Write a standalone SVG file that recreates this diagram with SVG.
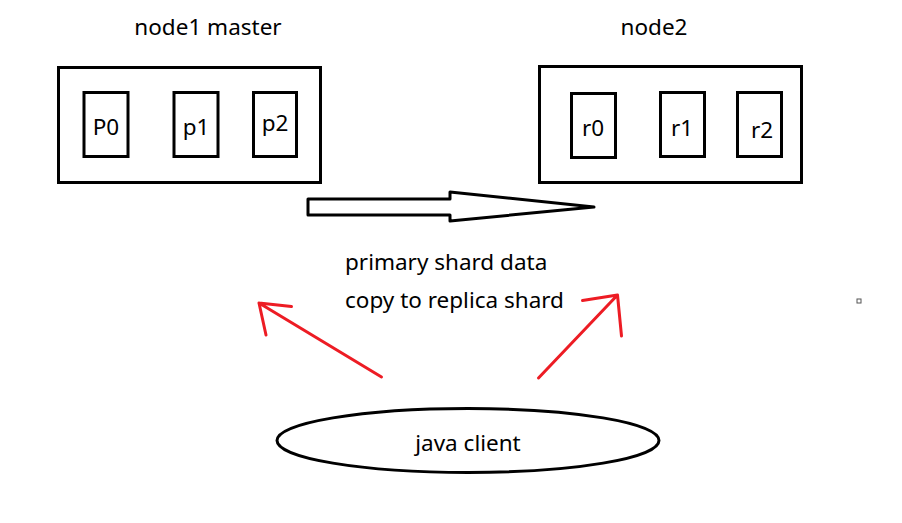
<svg xmlns="http://www.w3.org/2000/svg" width="902" height="523" viewBox="0 0 902 523">
<style>
.box{fill:#fff;stroke:#000;stroke-width:3}
.t{font-family:"Noto Sans","Open Sans",sans-serif;font-size:22.5px;fill:#000}
.red{stroke:#ED1C24;stroke-width:3;fill:none;stroke-linecap:round}
</style>
<rect width="902" height="523" fill="#fff"/>
<g id="node1">
<text class="t" x="208" y="35" text-anchor="middle">node1 master</text>
<rect class="box" x="58.5" y="67.5" width="262" height="115"/>
<g id="P0"><rect class="box" x="84" y="92.5" width="44" height="64"/><text class="t" x="106" y="135" text-anchor="middle">P0</text></g>
<g id="p1"><rect class="box" x="174" y="92.5" width="44" height="64"/><text class="t" x="196" y="135" text-anchor="middle">p1</text></g>
<g id="p2"><rect class="box" x="253.5" y="92.5" width="43" height="64"/><text class="t" x="275" y="131" text-anchor="middle">p2</text></g>
</g>
<g id="node2">
<text class="t" x="654" y="35" text-anchor="middle">node2</text>
<rect class="box" x="539.5" y="66.5" width="262" height="116"/>
<g id="r0"><rect class="box" x="571.5" y="93.5" width="44" height="64"/><text class="t" x="593" y="136" text-anchor="middle">r0</text></g>
<g id="r1"><rect class="box" x="660.5" y="92.5" width="44" height="64"/><text class="t" x="682" y="136" text-anchor="middle">r1</text></g>
<g id="r2"><rect class="box" x="737.5" y="92.5" width="44" height="64"/><text class="t" x="762" y="138" text-anchor="middle">r2</text></g>
</g>
<g id="client">
<ellipse class="box" cx="468" cy="440.5" rx="191" ry="32"/>
<text class="t" x="468" y="451" text-anchor="middle">java client</text>
</g>
<g id="label">
<text class="t" x="345" y="270">primary shard data</text>
<text class="t" x="345" y="308">copy to replica shard</text>
</g>
<g id="connectors">
<polygon points="308,199 450,199 450,192 594,207 450,221 450,215 308,215" fill="#fff" stroke="#000" stroke-width="3" stroke-linejoin="round"/>
<path class="red" d="M381.5,377 L259,303 M259,303 L291.5,306.5 M259,303 L266,335"/>
<path class="red" d="M538.5,378 L617.5,295 M617.5,295 L582.5,300.5 M617.5,295 L621.5,336"/>
</g>
<rect x="857" y="299" width="4" height="4" fill="#fff" stroke="#555" stroke-width="1"/>
</svg>
